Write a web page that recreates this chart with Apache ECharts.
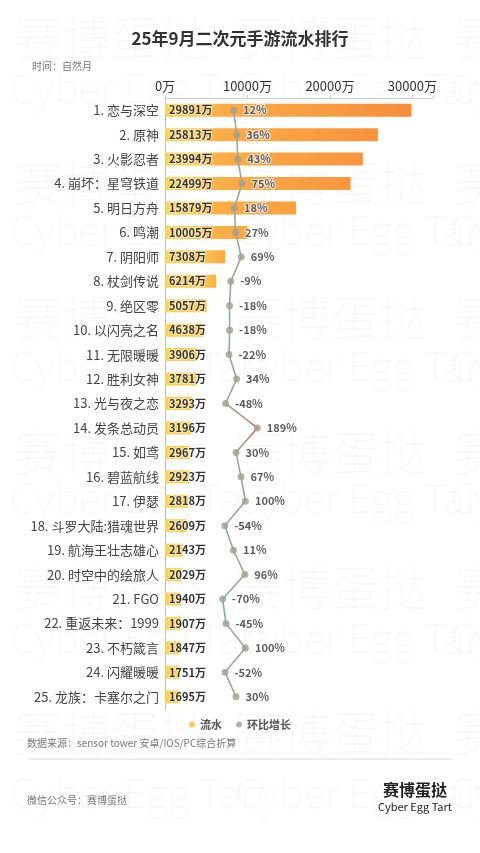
<!DOCTYPE html>
<html><head><meta charset="utf-8">
<script src="https://cdn.jsdelivr.net/npm/echarts@6/dist/echarts.min.js"></script>
<style>html,body{margin:0;padding:0;background:#fff}#c{width:480px;height:853px}</style>
</head><body><div id="c"></div>
<script>
const categories = ['1. 恋与深空','2. 原神','3. 火影忍者','4. 崩坏：星穹铁道','5. 明日方舟','6. 鸣潮','7. 阴阳师','8. 杖剑传说','9. 绝区零','10. 以闪亮之名','11. 无限暖暖','12. 胜利女神','13. 光与夜之恋','14. 发条总动员','15. 如鸢','16. 碧蓝航线','17. 伊瑟','18. 斗罗大陆:猎魂世界','19. 航海王壮志雄心','20. 时空中的绘旅人','21. FGO','22. 重返未来：1999','23. 不朽箴言','24. 闪耀暖暖','25. 龙族：卡塞尔之门'];
const revenue = [29891,25813,23994,22499,15879,10005,7308,6214,5057,4638,3906,3781,3293,3196,2967,2923,2818,2609,2143,2029,1940,1907,1847,1751,1695];
const growth = [12,36,43,75,18,27,69,-9,-18,-18,-22,34,-48,189,30,67,100,-54,11,96,-70,-45,100,-52,30];
const revenueTicks = [0,10000,20000,30000];

const FONT = '"Noto Sans CJK SC","Noto Sans",sans-serif';
const chart = echarts.init(document.getElementById('c'), null, {renderer:'canvas'});
const pairs = growth.map((g,i)=>[g, categories[i]]);

const wm = [];
const wmRowsCN = [40,185,320,455,590,735];
const wmRowsEN = [90,232,368,500,640,795];
wmRowsCN.forEach(y=>{[15,235,455].forEach(x=>wm.push({type:'text',left:x,top:y-26,silent:true,z:-10,style:{text:'赛博蛋挞',font:'300 48px '+FONT,fill:'rgba(0,0,0,0.022)'}}));});
wmRowsEN.forEach(y=>{[10,235,450].forEach(x=>wm.push({type:'text',left:x,top:y-22,silent:true,z:-10,style:{text:'Cyber Egg Tart',font:'300 40px '+FONT,fill:'rgba(0,0,0,0.022)'}}));});

chart.setOption({
  backgroundColor:'#fff',
  textStyle:{fontFamily:FONT},
  title:[
    {text:'25年9月二次元手游流水排行',left:'center',top:25,textStyle:{fontSize:17,fontWeight:'bold',color:'#333',fontFamily:FONT}},
    {text:'时间：自然月',left:27,top:56,textStyle:{fontSize:10,fontWeight:'normal',color:'#777',fontFamily:FONT}}
  ],
  legend:{
    bottom:118, left:'center', itemWidth:6, itemHeight:6, itemGap:14,
    icon:'circle',
    textStyle:{fontSize:11,fontWeight:'bold',color:'#555',fontFamily:FONT},
    data:[{name:'流水',itemStyle:{color:'#f8cc55'}},{name:'环比增长',itemStyle:{color:'#a39d8f'}}]
  },
  grid:{left:165,top:98,width:268,height:611,containLabel:false},
  xAxis:[
    {type:'value',position:'top',min:0,max:32500,interval:10000,
     axisLine:{show:true,lineStyle:{color:'#ccc'}},axisTick:{show:true,length:3,lineStyle:{color:'#ccc'}},
     splitLine:{show:false},
     axisLabel:{fontSize:13,color:'#333',margin:5,formatter:v=>revenueTicks.includes(v)?v+'万':''}},
    {type:'value',min:-500,max:1500,show:false,splitLine:{show:false}}
  ],
  yAxis:{type:'category',inverse:true,data:categories,
    axisLine:{show:true,lineStyle:{color:'#bbb'}},axisTick:{show:false},
    axisLabel:{fontSize:13,color:'#444',margin:6}},
  visualMap:{type:'continuous',show:false,seriesIndex:1,dimension:0,min:-70,max:189,
    inRange:{color:['#5fc0a2','#a8a294','#a8a294','#d25d55']}},
  series:[
    {name:'流水',type:'bar',xAxisIndex:0,data:revenue,barWidth:13,
     itemStyle:{color:new echarts.graphic.LinearGradient(165,0,433,0,[
       {offset:0,color:'#fcd452'},{offset:0.13,color:'#fcca4e'},{offset:0.2,color:'#fbad46'},{offset:1,color:'#f6883a'}],true)},
     label:{show:true,position:'insideLeft',offset:[-1,0],fontSize:11,fontWeight:'bold',color:'#333',
       textBorderColor:'rgba(255,255,255,0.55)',textBorderWidth:2,formatter:p=>p.value+'万'}},
    {name:'环比增长line',type:'line',xAxisIndex:1,data:pairs,symbol:'none',lineStyle:{width:1.6},z:3,silent:true,legendHoverLink:false},
    {name:'环比增长',type:'scatter',xAxisIndex:1,data:pairs,symbolSize:7,z:4,
     itemStyle:{color:'#a39d8f'},
     label:{show:true,position:'right',distance:6,fontSize:11,fontWeight:'bold',color:'#333',textBorderColor:'#fff',textBorderWidth:2,formatter:p=>p.value[0]+'%'}}
  ],
  graphic:wm.concat([
    {type:'text',left:27,top:738,style:{text:'数据来源：sensor tower 安卓/IOS/PC综合折算',font:'10px '+FONT,fill:'#777'}},
    {type:'line',shape:{x1:27,y1:759,x2:453,y2:759},style:{stroke:'#ddd',lineWidth:1}},
    {type:'text',left:27,top:795,style:{text:'微信公众号：赛博蛋挞',font:'10px '+FONT,fill:'#777'}},
    {type:'text',x:415,y:790,style:{text:'赛博蛋挞',font:'bold 16px '+FONT,fill:'#222',align:'center',verticalAlign:'middle'}},
    {type:'text',x:415,y:807,style:{text:'Cyber Egg Tart',font:'11px '+FONT,fill:'#222',align:'center',verticalAlign:'middle'}}
  ])
});
</script></body></html>
